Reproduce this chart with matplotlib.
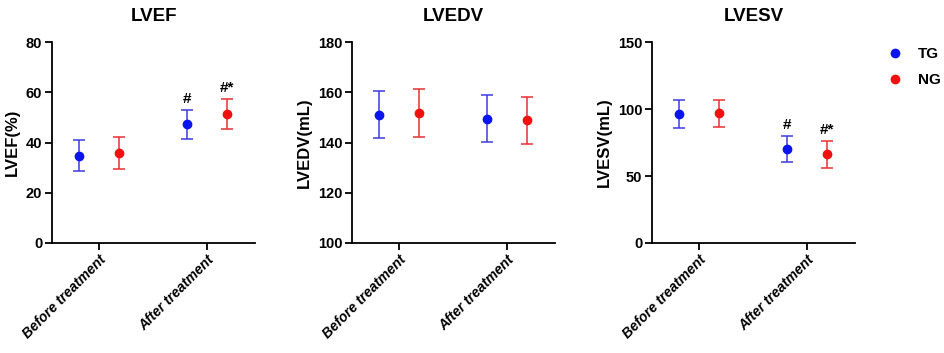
import matplotlib
matplotlib.use("Agg")
import matplotlib.pyplot as plt
import numpy as np

plt.rcParams['font.family'] = ['Liberation Sans', 'DejaVu Sans']

categories = ["Before treatment", "After treatment"]
groups = ["TG", "NG"]
colors = {"TG": "#0a14f0", "NG": "#f01010"}
err_colors = {"TG": "#3c3ce0", "NG": "#e83030"}

titles = ["LVEF", "LVEDV", "LVESV"]
ylabels = ["LVEF(%)", "LVEDV(mL)", "LVESV(mL)"]
ylims = [(0, 80), (100, 180), (0, 150)]
yticks = [[0, 20, 40, 60, 80], [100, 120, 140, 160, 180], [0, 50, 100, 150]]

lvef_mean = {"TG": [34.7, 47.3], "NG": [35.8, 51.3]}
lvef_sd = {"TG": [6.1, 5.8], "NG": [6.3, 6.0]}
lvedv_mean = {"TG": [151.1, 149.5], "NG": [151.6, 148.8]}
lvedv_sd = {"TG": [9.5, 9.3], "NG": [9.5, 9.3]}
lvesv_mean = {"TG": [96.3, 70.1], "NG": [96.8, 66.2]}
lvesv_sd = {"TG": [10.4, 10.0], "NG": [10.2, 10.1]}

means = [lvef_mean, lvedv_mean, lvesv_mean]
sds = [lvef_sd, lvedv_sd, lvesv_sd]

# significance annotations: (panel, group, category index, text)
annotations = [(0, "TG", 1, "#"), (0, "NG", 1, "#*"),
               (2, "TG", 1, "#"), (2, "NG", 1, "#*")]

W, H = 944, 353
fig = plt.figure(figsize=(W / 100, H / 100), dpi=100)
lefts = [52 / W, 352 / W, 652 / W]
axes = []
offsets = {"TG": -0.185, "NG": 0.185}
x = np.arange(len(categories))
for i in range(3):
    ax = fig.add_axes([lefts[i], (H - 243) / H, 203 / W, 201 / H])
    axes.append(ax)
    for g in groups:
        xs = x + offsets[g]
        ax.errorbar(xs, means[i][g], yerr=sds[i][g], fmt='none',
                    ecolor=err_colors[g], elinewidth=1.1, capsize=4.6, capthick=1.1, zorder=2)
        ax.plot(xs, means[i][g], 'o', color=colors[g], markersize=6, zorder=3,
                label=g, linestyle='none')
    ax.set_xlim(-0.435, 1.445)
    ax.set_ylim(*ylims[i])
    ax.set_yticks(yticks[i])
    ax.set_xticks(x)
    ax.set_xticklabels(categories, rotation=45, ha='right', rotation_mode='anchor',
                       fontstyle='italic', fontweight='bold', fontsize=10)
    for lab in ax.get_yticklabels():
        lab.set_fontweight('bold')
        lab.set_fontsize(10.5)
    ax.set_ylabel(ylabels[i], fontweight='bold', fontsize=12, labelpad=4)
    ax.set_title(titles[i], fontweight='bold', fontsize=13.5, pad=15)
    for s in ['top', 'right']:
        ax.spines[s].set_visible(False)
    for s in ['left', 'bottom']:
        ax.spines[s].set_linewidth(1.3)
    ax.tick_params(axis='both', width=1.3, length=5, pad=2)
    ax.patch.set_alpha(0)

for (p, g, ci, txt) in annotations:
    ax = axes[p]
    yv = means[p][g][ci] + sds[p][g][ci]
    span = ylims[p][1] - ylims[p][0]
    ax.text(ci + offsets[g], yv + span * 0.055, txt, ha='center', va='center',
            fontweight='bold', fontsize=11)

handles, labels = axes[2].get_legend_handles_labels()
fig.legend(handles, labels, loc='upper left', bbox_to_anchor=(887 / W, 1 - 47 / H),
           frameon=False, prop={'weight': 'bold', 'size': 11}, handletextpad=1.0,
           labelspacing=0.8, handlelength=1.0, borderpad=0, borderaxespad=0)

fig.savefig("out.png", dpi=100)
